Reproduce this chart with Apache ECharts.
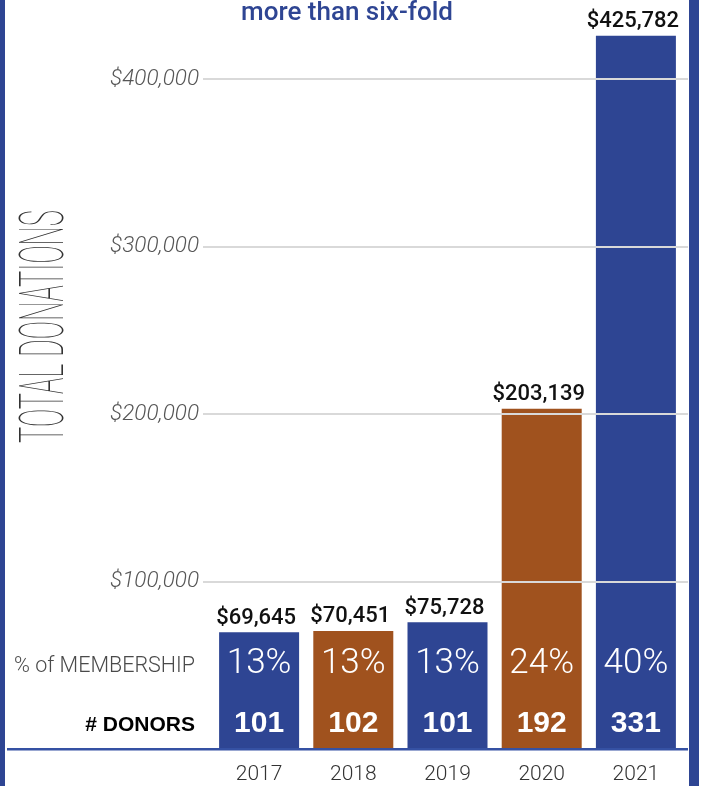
<!DOCTYPE html>
<html>
<head>
<meta charset="utf-8">
<script src="https://cdn.jsdelivr.net/npm/echarts@6/dist/echarts.min.js"></script>
<style>
  html, body { margin: 0; padding: 0; background: #ffffff; }
  #chart { width: 701px; height: 786px; }
</style>
</head>
<body>
<div id="chart"></div>
<script>
// ---- data ----
const years = ['2017', '2018', '2019', '2020', '2021'];
const donations = [69645, 70451, 75728, 203139, 425782];
const membershipPct = [13, 13, 13, 24, 40];
const donors = [101, 102, 101, 192, 331];
const rowLabels = ['% of MEMBERSHIP', '# DONORS'];
const yTicks = [100000, 200000, 300000, 400000];
const titleText = 'more than six-fold';
const axisTitle = 'TOTAL DONATIONS';

// ---- styles ----
const BLUE = '#2e4593';
const ORANGE = '#a0521e';
const palette = [BLUE, ORANGE];

function fmtMoney(v) {
  return '$' + v.toString().replace(/\B(?=(\d{3})+(?!\d))/g, ',');
}

// measure the vertical axis title to squeeze it into the condensed look
const titleFont = '100 62px Roboto';
const mctx = document.createElement('canvas').getContext('2d');
mctx.font = titleFont;
const natW = mctx.measureText(axisTitle).width || 545;
const squeeze = 233 / natW;

const chart = echarts.init(document.getElementById('chart'), null, { renderer: 'canvas' });

const option = {
  animation: false,
  backgroundColor: '#ffffff',
  title: {
    text: titleText,
    left: 347,
    textAlign: 'center',
    top: 0,
    padding: 0,
    textStyle: { fontFamily: 'Roboto', fontWeight: 500, fontSize: 26, color: BLUE }
  },
  grid: [
    { left: 212, right: 18, top: 12, bottom: 37 },
    { left: 203, right: 13, top: 12, bottom: 37 },
    { left: 212, right: 18, top: 637, height: 118 }
  ],
  xAxis: [
    {
      type: 'category', gridIndex: 0, data: years,
      axisLine: { show: false }, axisTick: { show: false },
      axisLabel: { margin: 15, fontSize: 21, color: '#333', fontFamily: 'Roboto', fontWeight: 300 }
    },
    { type: 'value', gridIndex: 1, min: 0, max: 1, show: false },
    { type: 'category', gridIndex: 2, data: years, show: false }
  ],
  yAxis: [
    { type: 'value', gridIndex: 0, min: 0, max: 440000, show: false },
    {
      type: 'value', gridIndex: 1, min: 0, max: 440000, interval: 100000, z: 10,
      axisLine: { show: false }, axisTick: { show: false },
      splitLine: { show: true, showMinLine: false, showMaxLine: false, lineStyle: { color: '#d9d9d9', width: 2 } },
      axisLabel: {
        margin: 4, fontSize: 22.5, fontStyle: 'italic', fontWeight: 300, fontFamily: 'Roboto', color: '#555',
        formatter: function (v) { return yTicks.indexOf(v) >= 0 ? fmtMoney(v) : ''; }
      }
    },
    {
      type: 'category', gridIndex: 2, data: rowLabels, inverse: true,
      axisLine: { show: false }, axisTick: { show: false },
      axisLabel: {
        margin: 17,
        formatter: function (v, i) { return i === 0 ? '{a|' + v + '}' : '{b|' + v + '}'; },
        rich: {
          a: { fontFamily: 'Roboto', fontWeight: 300, fontSize: 21.5, color: '#4a4a4a' },
          b: { fontFamily: 'Liberation Sans', fontWeight: 'bold', fontSize: 21, color: '#000' }
        }
      }
    }
  ],
  series: [
    {
      type: 'bar', xAxisIndex: 0, yAxisIndex: 0, barWidth: 80,
      data: donations,
      itemStyle: { color: function (p) { return palette[p.dataIndex % 2]; } },
      label: {
        show: true, position: 'top', distance: 3, offset: [-3, 0],
        fontFamily: 'Roboto', fontWeight: 500, fontSize: 22, color: '#111',
        formatter: function (p) { return fmtMoney(p.value); }
      }
    },
    {
      type: 'scatter', xAxisIndex: 2, yAxisIndex: 2, z: 5,
      symbol: 'rect', symbolSize: 1, itemStyle: { color: 'rgba(0,0,0,0)', opacity: 1 },
      data: years.map(function (y, i) { return [y, rowLabels[0], membershipPct[i]]; }),
      label: {
        show: true, position: 'inside', offset: [0, -2],
        fontFamily: 'Roboto', fontWeight: 300, fontSize: 35, color: '#fff',
        formatter: function (p) { return p.value[2] + '%'; }
      }
    },
    {
      type: 'scatter', xAxisIndex: 2, yAxisIndex: 2, z: 5,
      symbol: 'rect', symbolSize: 1, itemStyle: { color: 'rgba(0,0,0,0)', opacity: 1 },
      data: years.map(function (y, i) { return [y, rowLabels[1], donors[i]]; }),
      label: {
        show: true, position: 'inside', offset: [0, -2],
        fontFamily: 'Liberation Sans', fontWeight: 'bold', fontSize: 30, color: '#fff',
        formatter: function (p) { return String(p.value[2]); }
      }
    }
  ],
  graphic: [
    { type: 'rect', z: 100, shape: { x: 0, y: 0, width: 5, height: 786 }, style: { fill: BLUE } },
    { type: 'rect', z: 100, shape: { x: 689, y: 0, width: 10, height: 786 }, style: { fill: BLUE } },
    { type: 'rect', z: 100, shape: { x: 7, y: 748, width: 681, height: 2.5 }, style: { fill: '#3551a3' } },
    {
      type: 'text', z: 100, x: 47.5, y: 326.5, rotation: Math.PI / 2, scaleX: squeeze, scaleY: 1,
      style: {
        text: axisTitle, x: 0, y: 0, align: 'center', verticalAlign: 'middle',
        fontFamily: 'Roboto', fontWeight: 100, fontSize: 62, fill: '#333'
      }
    }
  ]
};

chart.setOption(option);
</script>
</body>
</html>
